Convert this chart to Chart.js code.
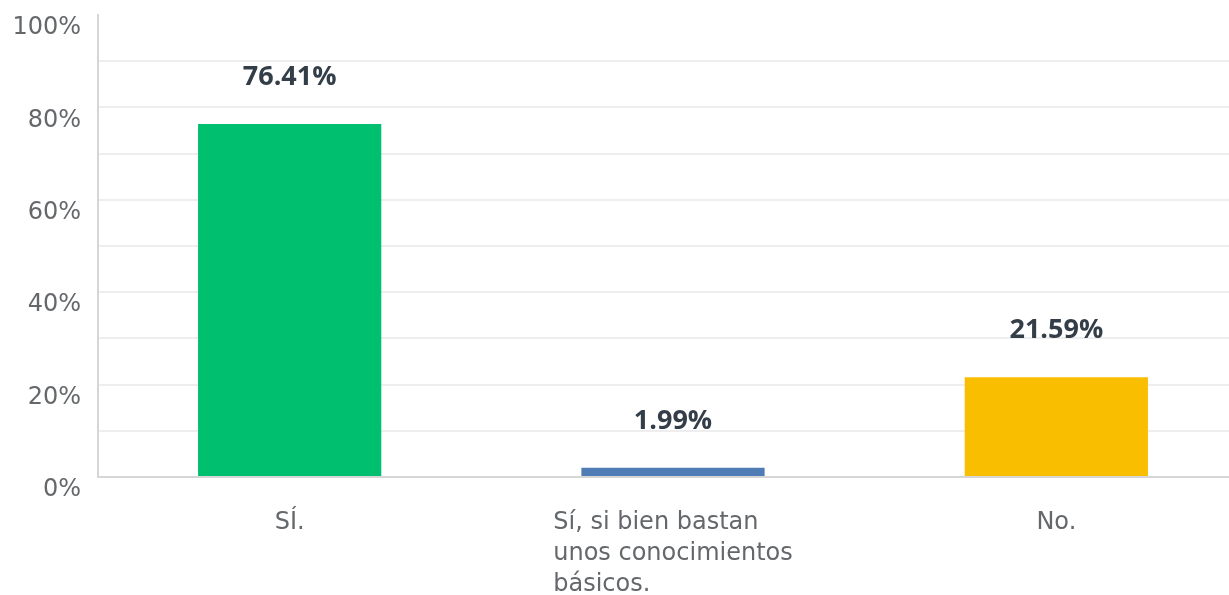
<!DOCTYPE html>
<html>
<head>
<meta charset="utf-8">
<script src="https://cdn.jsdelivr.net/npm/chart.js@4.4.1/dist/chart.umd.min.js"></script>
<style>
  html, body { margin: 0; padding: 0; background: #fff; overflow: hidden; }
  #wrap { width: 1250px; height: 595px; }
</style>
</head>
<body>
<div id="wrap"><canvas id="chart" width="1250" height="595"></canvas></div>
<script>
/* Survey answer chart – percentage per option */
const categories = [
  ["SÍ."],
  ["Sí, si bien bastan", "unos conocimientos", "básicos."],
  ["No."]
];
const values = [76.41, 1.99, 21.59];
const barColors = ["#00BF6F", "#507CB6", "#F9BE00"];
const yTicks = [0, 20, 40, 60, 80, 100];

const FONT = "'DejaVu Sans', sans-serif";
const BOLD_FONT = "'Open Sans', sans-serif";
const TEXT_GREY = "#65686b";

// value labels above bars
const valueLabels = {
  id: "valueLabels",
  afterDatasetsDraw(chart) {
    const c = chart.ctx;
    const meta = chart.getDatasetMeta(0);
    c.save();
    c.font = "bold 27px " + BOLD_FONT;
    c.fillStyle = "#333e48";
    c.textAlign = "center";
    c.textBaseline = "alphabetic";
    meta.data.forEach((bar, i) => {
      c.fillText(values[i].toFixed(2) + "%", bar.x, bar.y - 39);
    });
    c.restore();
  }
};

// x labels: block centred under bar, lines left aligned
const xLabels = {
  id: "xLabels",
  afterDraw(chart) {
    const c = chart.ctx;
    const xs = chart.scales.x;
    c.save();
    c.font = "24px " + FONT;
    c.fillStyle = TEXT_GREY;
    c.textAlign = "left";
    c.textBaseline = "alphabetic";
    categories.forEach((lines, i) => {
      const cx = xs.getPixelForValue(i);
      const w = Math.max(...lines.map(l => c.measureText(l).width));
      lines.forEach((l, j) => {
        c.fillText(l, cx - w / 2, 529 + j * 31);
      });
    });
    c.restore();
  }
};

new Chart(document.getElementById("chart"), {
  type: "bar",
  data: {
    labels: categories.map(l => l.join(" ")),
    datasets: [{
      data: values,
      backgroundColor: barColors,
      borderWidth: 0,
      barPercentage: 0.478,
      categoryPercentage: 1
    }]
  },
  options: {
    responsive: false,
    animation: false,
    devicePixelRatio: 1,
    layout: { padding: { top: 15, right: 2, left: 0, bottom: 0 } },
    plugins: { legend: { display: false }, tooltip: { enabled: false } },
    scales: {
      x: {
        grid: { display: false },
        border: { color: "#d6d6d6", width: 2 },
        ticks: { display: false },
        afterFit(s) { s.height = 118; }
      },
      y: {
        min: 0,
        max: 100,
        afterFit(s) { s.width = 98; s.paddingTop = 0; s.paddingBottom = 0; },
        border: { color: "#d6d6d6", width: 2 },
        grid: {
          drawTicks: false,
          lineWidth: 2,
          color: c => (c.tick && c.tick.value === 100) ? "rgba(0,0,0,0)" : "#eeeeee"
        },
        ticks: {
          stepSize: 10,
          padding: 17,
          labelOffset: 13,
          color: TEXT_GREY,
          font: { family: FONT, size: 24 },
          callback: v => yTicks.includes(v) ? v + "%" : ""
        }
      }
    }
  },
  plugins: [valueLabels, xLabels]
});
</script>
</body>
</html>
